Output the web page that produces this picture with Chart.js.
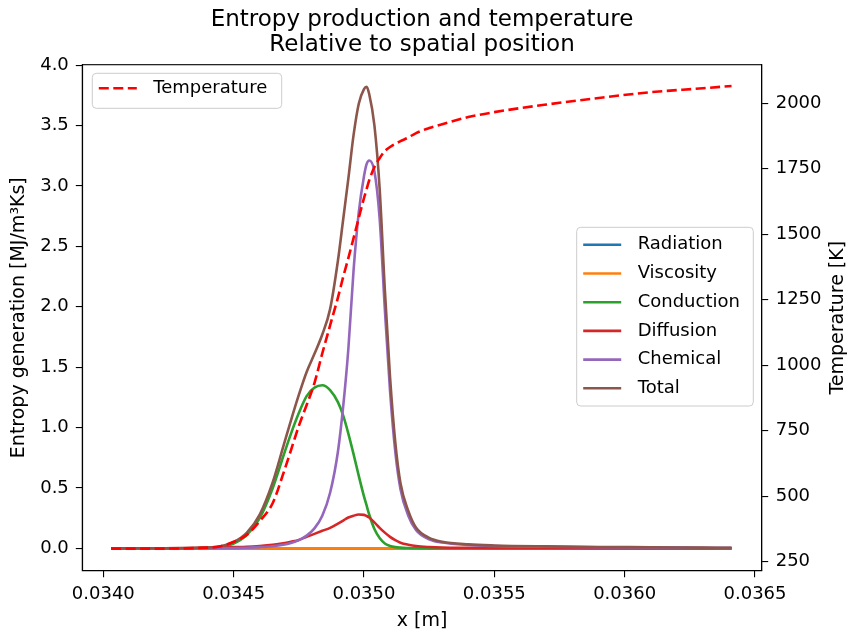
<!DOCTYPE html>
<html>
<head>
<meta charset="utf-8">
<script src="https://cdn.jsdelivr.net/npm/chart.js@4.4.1/dist/chart.umd.min.js"></script>
<style>
  html, body { margin: 0; padding: 0; background: #fff; }
</style>
</head>
<body>
<canvas id="entropia" width="850" height="632"></canvas>
<script>
// posicao [m]
const xPos = [0.03403, 0.03420, 0.03435, 0.03445, 0.03450, 0.03455, 0.03460, 0.03465, 0.03469, 0.03472,
  0.03475, 0.03478, 0.03481, 0.03484, 0.03487, 0.03490, 0.03492, 0.03494, 0.03496, 0.03498,
  0.03500, 0.03501, 0.03502, 0.03504, 0.03506, 0.03508, 0.03510, 0.03512, 0.03514, 0.03517,
  0.03520, 0.03525, 0.03530, 0.03540, 0.03550, 0.03570, 0.03590, 0.03610, 0.03630, 0.03641];

// geracao de entropia [MJ/m3Ks]
const radiation = [0, 0, 0, 0, 0, 0, 0, 0, 0, 0,
  0, 0, 0, 0, 0, 0, 0, 0, 0, 0,
  0, 0, 0, 0, 0, 0, 0, 0, 0, 0,
  0, 0, 0, 0, 0, 0, 0, 0, 0, 0];
const viscosity = [0, 0, 0, 0, 0, 0, 0, 0, 0, 0,
  0, 0, 0, 0, 0, 0, 0, 0, 0, 0,
  0, 0, 0, 0, 0, 0, 0, 0, 0, 0,
  0, 0, 0, 0, 0, 0, 0, 0, 0, 0];
const conduction = [0, 0, 0.001, 0.01, 0.04, 0.11, 0.25, 0.50, 0.76, 0.95,
  1.12, 1.26, 1.33, 1.35, 1.31, 1.21, 1.10, 0.95, 0.78, 0.60,
  0.43, 0.355, 0.28, 0.16, 0.085, 0.04, 0.02, 0.01, 0.006, 0.003,
  0.001, 0, 0, 0, 0, 0, 0, 0, 0, 0];
const diffusion = [0, 0.001, 0.003, 0.007, 0.010, 0.013, 0.02, 0.03, 0.042, 0.055,
  0.07, 0.095, 0.12, 0.145, 0.17, 0.205, 0.23, 0.255, 0.27, 0.28,
  0.277, 0.268, 0.255, 0.215, 0.17, 0.13, 0.095, 0.068, 0.047, 0.03,
  0.019, 0.011, 0.007, 0.005, 0.004, 0.003, 0.002, 0.002, 0.001, 0.001];
const chemical = [0, 0, 0.001, 0.001, 0.002, 0.005, 0.01, 0.018, 0.03, 0.045,
  0.068, 0.105, 0.165, 0.27, 0.46, 0.80, 1.17, 1.65, 2.3, 2.78,
  3.08, 3.18, 3.21, 3.12, 2.73, 1.98, 1.30, 0.80, 0.49, 0.27,
  0.15, 0.075, 0.048, 0.028, 0.02, 0.013, 0.009, 0.007, 0.005, 0.004];
const total = [0, 0.001, 0.005, 0.018, 0.052, 0.128, 0.28, 0.548, 0.84, 1.06,
  1.27, 1.46, 1.61, 1.77, 1.98, 2.38, 2.72, 3.06, 3.42, 3.68,
  3.80, 3.82, 3.76, 3.50, 2.98, 2.14, 1.415, 0.88, 0.54, 0.31,
  0.17, 0.087, 0.055, 0.033, 0.024, 0.016, 0.011, 0.009, 0.006, 0.005];

// temperatura [K]
const temperature = [300, 300, 302, 309, 326, 352, 405, 474, 585, 676,
  768, 848, 932, 1045, 1152, 1258, 1336, 1409, 1485, 1562,
  1638, 1672, 1706, 1756, 1790, 1817, 1833, 1845, 1855, 1869,
  1886, 1905, 1920, 1947, 1966, 1995, 2020, 2042, 2057, 2066];

const xTicks = [0.0340, 0.0345, 0.0350, 0.0355, 0.0360, 0.0365];
const sTicks = [0.0, 0.5, 1.0, 1.5, 2.0, 2.5, 3.0, 3.5, 4.0];
const tTicks = [250, 500, 750, 1000, 1250, 1500, 1750, 2000];

const series = [
  { label: 'Radiation', data: radiation, color: '#1f77b4' },
  { label: 'Viscosity', data: viscosity, color: '#ff7f0e' },
  { label: 'Conduction', data: conduction, color: '#2ca02c' },
  { label: 'Diffusion', data: diffusion, color: '#d62728' },
  { label: 'Chemical', data: chemical, color: '#9467bd' },
  { label: 'Total', data: total, color: '#8c564b' }
];

Chart.defaults.font.family = 'DejaVu Sans';
Chart.defaults.color = '#000';

const pts = ys => xPos.map((x, i) => ({ x: x, y: ys[i] }));

const datasets = series.map((s, i) => ({
  label: s.label,
  data: pts(s.data),
  yAxisID: 'y',
  borderColor: s.color,
  borderWidth: 2.6,
  pointRadius: 0,
  cubicInterpolationMode: 'monotone',
  order: 6 - i
}));
datasets.push({
  label: 'Temperature',
  data: pts(temperature),
  yAxisID: 'yT',
  borderColor: '#ff0000',
  borderWidth: 2.6,
  borderDash: [10, 4.5],
  pointRadius: 0,
  cubicInterpolationMode: 'monotone',
  order: 0
});

function legendBox(ctx, x, y, w, h, items, firstRow, rowGap) {
  const r = 4;
  ctx.save();
  ctx.beginPath();
  ctx.moveTo(x + r, y);
  ctx.arcTo(x + w, y, x + w, y + h, r);
  ctx.arcTo(x + w, y + h, x, y + h, r);
  ctx.arcTo(x, y + h, x, y, r);
  ctx.arcTo(x, y, x + w, y, r);
  ctx.closePath();
  ctx.fillStyle = 'rgba(255,255,255,0.8)';
  ctx.fill();
  ctx.strokeStyle = '#cccccc';
  ctx.lineWidth = 1;
  ctx.stroke();
  ctx.font = '18px "DejaVu Sans"';
  ctx.textBaseline = 'middle';
  ctx.textAlign = 'left';
  items.forEach((it, i) => {
    const ry = y + firstRow + i * rowGap;
    ctx.beginPath();
    ctx.setLineDash(it.dash || []);
    ctx.strokeStyle = it.color;
    ctx.lineWidth = 2.6;
    ctx.moveTo(x + 6.5, ry);
    ctx.lineTo(x + 44.5, ry);
    ctx.stroke();
    ctx.setLineDash([]);
    ctx.fillStyle = '#000';
    ctx.fillText(it.label, x + 61, ry);
  });
  ctx.restore();
}

const extras = {
  id: 'extras',
  afterDraw(chart) {
    const { ctx, chartArea: a } = chart;
    ctx.save();
    ctx.strokeStyle = '#000';
    ctx.lineWidth = 1.1;
    ctx.strokeRect(a.left, a.top, a.right - a.left, a.bottom - a.top);
    ctx.translate(838, (a.top + a.bottom) / 2);
    ctx.rotate(-Math.PI / 2);
    ctx.font = '19px "DejaVu Sans"';
    ctx.fillStyle = '#000';
    ctx.textAlign = 'center';
    ctx.textBaseline = 'middle';
    ctx.fillText('Temperature [K]', 0, 0);
    ctx.restore();

    legendBox(ctx, a.left + 10, a.top + 8.6, 189.4, 35,
      [{ label: 'Temperature', color: '#ff0000', dash: [10, 4.5] }], 15, 0);
    legendBox(ctx, a.right - 185, a.top + 162.6, 176.6, 178.7,
      series.map(s => ({ label: s.label, color: s.color })), 17.5, 28.7);
  }
};

const tickGrid = { drawOnChartArea: false, tickLength: 6.5, color: '#000', lineWidth: 1.1 };

new Chart(document.getElementById('entropia').getContext('2d'), {
  type: 'line',
  data: { datasets: datasets },
  options: {
    responsive: false,
    animation: false,
    layout: { padding: 0 },
    plugins: {
      legend: { display: false },
      tooltip: { enabled: false },
      title: {
        display: true,
        fullSize: false,
        text: ['Entropy production and temperature', 'Relative to spatial position'],
        font: { size: 23, weight: 'normal', lineHeight: 1.1 },
        color: '#000',
        padding: { top: 7, bottom: 7.1 }
      }
    },
    scales: {
      x: {
        type: 'linear',
        min: 0.0339194,
        max: 0.0365257,
        afterBuildTicks: s => { s.ticks = xTicks.map(v => ({ value: v })); },
        afterFit: s => { s.height = 61.3; },
        ticks: { callback: v => v.toFixed(4), font: { size: 18 }, padding: 6, maxRotation: 0, autoSkip: false },
        grid: tickGrid,
        border: { color: '#000', width: 1.1 },
        title: { display: true, text: 'x [m]', font: { size: 19 }, padding: { top: 0, bottom: 0 } }
      },
      y: {
        position: 'left',
        min: -0.185,
        max: 4.003,
        afterBuildTicks: s => { s.ticks = sTicks.map(v => ({ value: v })); },
        afterFit: s => { s.width = 82.3; },
        ticks: { callback: v => v.toFixed(1), font: { size: 18 }, padding: 7 },
        grid: tickGrid,
        border: { color: '#000', width: 1.1 },
        title: { display: true, text: 'Entropy generation [MJ/m³Ks]', font: { size: 19 }, padding: { top: 8, bottom: 0 } }
      },
      yT: {
        position: 'right',
        min: 215.6,
        max: 2147,
        afterBuildTicks: s => { s.ticks = tTicks.map(v => ({ value: v })); },
        afterFit: s => { s.width = 88.3; },
        ticks: { callback: v => String(v), font: { size: 18 }, padding: 7.5 },
        grid: tickGrid,
        border: { color: '#000', width: 1.1 }
      }
    }
  },
  plugins: [extras]
});
</script>
</body>
</html>
